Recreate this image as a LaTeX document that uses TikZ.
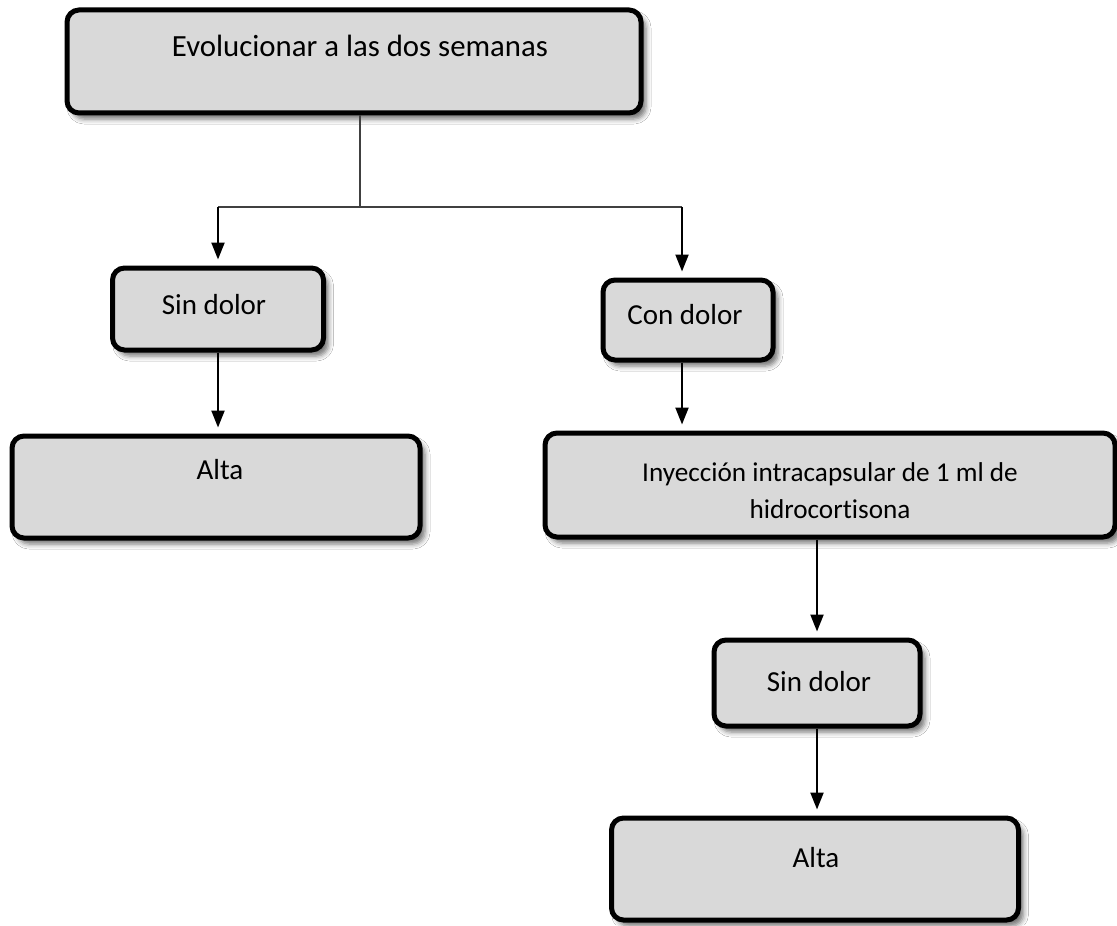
\documentclass[tikz,border=0pt]{standalone}
\usepackage{fontspec}
\setmainfont{Carlito}[Ligatures=NoCommon]
\usetikzlibrary{arrows.meta,shadows.blur}
\definecolor{boxgray}{HTML}{D9D9D9}
\begin{document}
\begin{tikzpicture}[x=0.5pt,y=-0.5pt,
  box/.style={draw=black, line width=2.5pt, rounded corners=6pt, fill=boxgray,
    inner sep=0pt,
    blur shadow={shadow xshift=2.5pt, shadow yshift=-3pt, shadow blur radius=2.5pt, shadow opacity=55}},
  lbl/.style={font=\fontsize{14.5}{18.5}\selectfont, align=center, inner sep=0pt},
  arr/.style={line width=1.1pt, -{Triangle[width=6.5pt,length=8.5pt]}, shorten >=3pt},
  feed/.style={line width=0.7pt, draw=black!75}
]
\fill[white] (0,0) rectangle (1117,925);
\useasboundingbox (0,0) rectangle (1117,925);

% boxes
\node[box, minimum width=287pt, minimum height=51.5pt] (top) at (354,61.5) {};
\node[box, minimum width=105.5pt, minimum height=41pt] (sinL) at (218,309) {};
\node[box, minimum width=204pt, minimum height=51pt] (altaL) at (216,487) {};
\node[box, minimum width=85pt, minimum height=40pt] (con) at (688,320) {};
\node[box, minimum width=285pt, minimum height=52pt] (iny) at (830,485) {};
\node[box, minimum width=103pt, minimum height=43pt] (sin2) at (817,683) {};
\node[box, minimum width=203.5pt, minimum height=51pt] (alta2) at (815,869) {};

% texts
\node[lbl, font=\fontsize{15.4}{18.5}\selectfont] (topT) at (360,46) {Evolucionar a las dos semanas};
\node[lbl] (sinLT) at (214,305) {Sin dolor};
\node[lbl] (altaLT) at (220,470) {Alta};
\node[lbl] (conT) at (685,315) {Con dolor};
\node[lbl, font=\fontsize{13.6}{18.5}\selectfont] (inyT) at (830,491) {Inyección intracapsular de 1 ml de\\hidrocortisona};
\node[lbl] (sin2T) at (819,682) {Sin dolor};
\node[lbl] (alta2T) at (816,858) {Alta};

% connectors
\coordinate (split) at (360,207);
\coordinate (lbend) at (sinL.north |- split);
\coordinate (rbend) at (682,207);
\draw[feed] ([xshift=3pt]top.south) -- (split);
\draw[feed] (lbend) -- (rbend);
\draw[arr] (lbend) -- (sinL.north);
\draw[arr] (rbend) -- (rbend |- con.north);
\draw[arr] (sinL.south) -- (sinL.south |- altaL.north);
\draw[arr] ([xshift=-3pt]con.south) -- ([xshift=-3pt]con.south |- iny.north);
\draw[arr] (sin2.north |- iny.south) -- (sin2.north);
\draw[arr] (sin2.south) -- (sin2.south |- alta2.north);
\end{tikzpicture}
\end{document}
